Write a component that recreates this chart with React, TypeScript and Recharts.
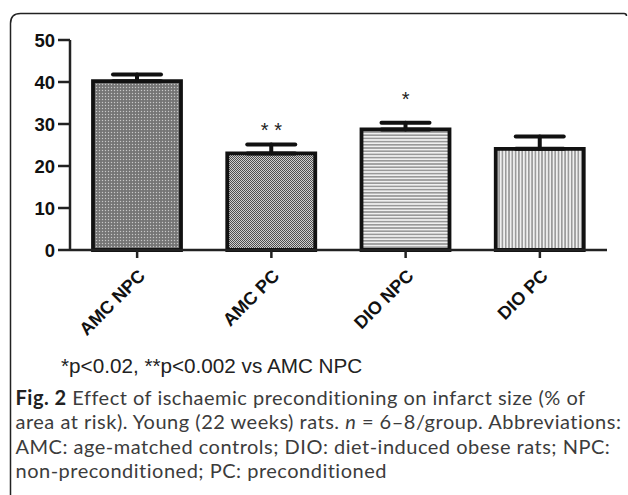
import React from 'react';
import { ComposedChart, Bar, Cell, XAxis, YAxis, ErrorBar, Scatter } from 'recharts';

const groups = ['AMC NPC', 'AMC PC', 'DIO NPC', 'DIO PC'];
const infarctSize = [40.2, 23.0, 28.7, 24.1];
const semUpper = [1.6, 2.1, 1.6, 2.9];
const significance = ['', '* *', '*', ''];
const markerLevel = [null, 27.0, 34.3, null];
const yTicks = [0, 10, 20, 30, 40, 50];

const data = groups.map((g, i) => ({
  group: g,
  value: infarctSize[i],
  err: [0, semUpper[i]],
  mark: markerLevel[i],
  label: significance[i],
}));

const patternIds = ['pat0', 'pat1', 'pat2', 'pat3'];

const XTick = (props: any) => {
  const { x, y, payload } = props;
  const ax = x + 9;
  const ay = y + 19;
  return (
    <text
      x={ax}
      y={ay}
      transform={`rotate(-45, ${ax}, ${ay})`}
      textAnchor="end"
      fontFamily="'Liberation Sans', Arial, sans-serif"
      fontWeight="bold"
      fontSize={18}
      fill="#111"
    >
      {payload.value}
    </text>
  );
};

const YTick = (props: any) => {
  const { x, y, payload } = props;
  return (
    <text
      x={x}
      y={y}
      dy={6.5}
      textAnchor="end"
      fontFamily="'Liberation Sans', Arial, sans-serif"
      fontWeight="bold"
      fontSize={18.5}
      fill="#111"
    >
      {payload.value}
    </text>
  );
};

const StarShape = (props: any) => {
  const { cx, cy, payload } = props;
  if (cx == null || cy == null || !payload || !payload.label) return null;
  return (
    <text
      x={cx}
      y={cy}
      textAnchor="middle"
      fontFamily="'Liberation Sans', Arial, sans-serif"
      fontSize={20}
      fill="#222"
    >
      {payload.label}
    </text>
  );
};

export default function App() {
  return (
    <div style={{ position: 'absolute', left: 0, top: 0, width: 628, height: 495, background: '#fff' }}>
      <div style={{ position: 'absolute', left: 0, top: 0 }}>
        <ComposedChart
          width={628}
          height={360}
          data={data}
          margin={{ top: 40, right: 21, bottom: 20, left: 0 }}
        >
          <defs>
            <pattern id="pat0" width="3" height="3" patternUnits="userSpaceOnUse">
              <rect width="3" height="3" fill="#7e7e7e" />
              <rect x="0" y="0" width="1" height="1" fill="#c8c8c8" />
              <rect x="1.5" y="1.5" width="1" height="1" fill="#5a5a5a" />
            </pattern>
            <pattern id="pat1" width="2" height="2" patternUnits="userSpaceOnUse">
              <rect width="2" height="2" fill="#cfcfcf" />
              <rect x="0" y="0" width="1" height="1" fill="#4e4e4e" />
              <rect x="1" y="1" width="1" height="1" fill="#4e4e4e" />
            </pattern>
            <pattern id="pat2" width="4" height="3.2" patternUnits="userSpaceOnUse">
              <rect width="4" height="3.2" fill="#f0f0f0" />
              <rect x="0" y="0" width="4" height="1.6" fill="#999" />
            </pattern>
            <pattern id="pat3" width="3.3" height="4" patternUnits="userSpaceOnUse">
              <rect width="3.3" height="4" fill="#f0f0f0" />
              <rect x="0" y="0" width="1.6" height="4" fill="#999" />
            </pattern>
          </defs>
          <XAxis
            dataKey="group"
            height={90}
            tick={<XTick />}
            tickSize={8}
            tickMargin={0}
            interval={0}
            axisLine={{ stroke: '#222', strokeWidth: 2.5 }}
            tickLine={{ stroke: '#222', strokeWidth: 2.5 }}
          />
          <YAxis
            width={70}
            domain={[0, 50]}
            ticks={yTicks}
            tick={<YTick />}
            tickSize={12}
            tickMargin={3}
            axisLine={{ stroke: '#222', strokeWidth: 2.5 }}
            tickLine={{ stroke: '#222', strokeWidth: 2.5 }}
          />
          <Bar dataKey="value" barSize={88} stroke="#111" strokeWidth={3.8} isAnimationActive={false}>
            {data.map((d, i) => (
              <Cell key={d.group} fill={`url(#${patternIds[i]})`} />
            ))}
            <ErrorBar dataKey="err" width={24} stroke="#111" strokeWidth={4} strokeLinecap="round" isAnimationActive={false} />
          </Bar>
          <Scatter dataKey="mark" shape={<StarShape />} isAnimationActive={false} />
        </ComposedChart>
      </div>
      <svg width={628} height={495} style={{ position: 'absolute', left: 0, top: 0, pointerEvents: 'none' }}>
        <path d="M10.5 495 L10.5 23.5 Q10.5 13.5 20.5 13.5 L624 13.5 Q626.5 13.5 626.5 16" fill="none" stroke="#222" strokeWidth={1.5} />
        <text x={61} y={373} fontFamily="'Liberation Sans', Arial, sans-serif" fontSize={20.7} fill="#222">
          *p&lt;0.02, **p&lt;0.002 vs AMC NPC
        </text>
        <g fontFamily="Lato, sans-serif" fontSize={20} letterSpacing={0.5} fill="#3c3c3c">
          <text x={15.5} y={405}>
            <tspan fontWeight="bold" fill="#222">Fig. 2</tspan> Effect of ischaemic preconditioning on infarct size (% of
          </text>
          <text x={15.5} y={429.3}>
            area at risk). Young (22 weeks) rats. <tspan fontStyle="italic">n</tspan> = 6–8/group. Abbreviations:
          </text>
          <text x={15.5} y={453.6}>AMC: age-matched controls; DIO: diet-induced obese rats; NPC:</text>
          <text x={15.5} y={477.9}>non-preconditioned; PC: preconditioned</text>
        </g>
      </svg>
    </div>
  );
}
